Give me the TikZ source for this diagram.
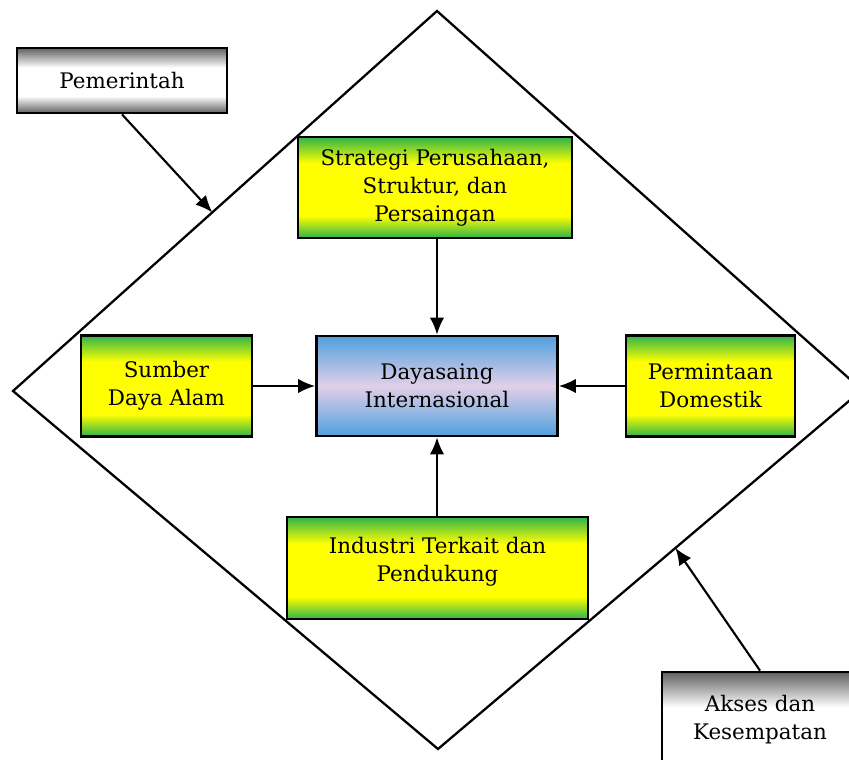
\documentclass[tikz,border=0pt]{standalone}
\usepackage{fontspec}
\setmainfont{DejaVu Serif}
\usepackage{tikz}
\usetikzlibrary{arrows.meta,positioning,calc}
\definecolor{pdGreen}{HTML}{2FB34A}
\definecolor{pdYellow}{HTML}{FFFF00}
\definecolor{pdBlue}{HTML}{4FA0DE}
\definecolor{pdLilac}{HTML}{E2CFE8}
\definecolor{pdGrey}{HTML}{606060}
\pgfdeclareverticalshading{pdgreenbar}{100bp}{color(0bp)=(pdGreen); color(25bp)=(pdGreen); color(36bp)=(pdYellow); color(62bp)=(pdYellow); color(75bp)=(pdGreen); color(100bp)=(pdGreen)}
\pgfdeclareverticalshading{pdgreybar}{100bp}{color(0bp)=(pdGrey); color(25bp)=(pdGrey); color(38bp)=(white); color(60bp)=(white); color(75bp)=(pdGrey); color(100bp)=(pdGrey)}
\tikzset{
  pdbox/.style={draw=black,line width=1.6pt,align=center,inner sep=2pt,
                font=\fontsize{12.2}{16}\selectfont},
  pdfactor/.style={pdbox,shade,shading=pdgreenbar},
  pdcore/.style={pdbox,top color=pdBlue,bottom color=pdBlue,middle color=pdLilac},
  pdside/.style={pdbox,shade,shading=pdgreybar},
  pdflow/.style={-{Latex[length=3.4mm,width=2.9mm]},line width=1.2pt},
  pdedge/.style={line width=1.3pt,line join=miter},
}

\begin{document}
\begin{tikzpicture}[x=0.02cm,y=-0.02cm]
  \useasboundingbox (0,0) rectangle (849,760);

  % The diamond frame.
  \coordinate (dtop) at (437,11);
  \coordinate (dright) at (862,390);
  \coordinate (dbottom) at (438,749);
  \coordinate (dleft) at (13,391);
  \draw[pdedge] (dtop)--(dright)--(dbottom)--(dleft)--cycle;
  \coordinate (govhit) at ($(dleft)!0.47!(dtop)$);
  \coordinate (acchit) at ($(dright)!0.44!(dbottom)$);

  \node[pdcore,minimum width=4.82cm,minimum height=2.0cm] (core) at (437,386) {Dayasaing\\Internasional};
  \node[pdfactor,minimum width=5.48cm,minimum height=2.02cm] (strat) at (435,187.5) {Strategi Perusahaan,\\Struktur, dan\\Persaingan};
  \node[pdfactor,minimum width=3.42cm,minimum height=2.02cm] (res) at (166.5,386) {Sumber\\Daya Alam};
  \node[pdfactor,minimum width=3.38cm,minimum height=2.02cm] (dem) at (710.5,386) {Permintaan\\Domestik};
  \node[pdfactor,minimum width=6.02cm,minimum height=2.04cm] (ind) at (437.5,568) {Industri Terkait dan\\Pendukung\\[-6pt]};

  \node[pdside,minimum width=4.2cm,minimum height=1.3cm] (gov) at (122,80.5) {Pemerintah};
  \node[pdside,minimum width=3.92cm,minimum height=2.36cm] (acc) at (760,731) {Akses dan\\Kesempatan\\\mbox{}};

  \draw[pdflow] (core.north |- strat.south)--(core.north);
  \draw[pdflow] (core.south |- ind.north)--(core.south);
  \draw[pdflow] (res)--(core);
  \draw[pdflow] (dem)--(core);
  \draw[pdflow] (gov.south)--(govhit);
  \draw[pdflow] (acc.north)--(acchit);
\end{tikzpicture}
\end{document}
